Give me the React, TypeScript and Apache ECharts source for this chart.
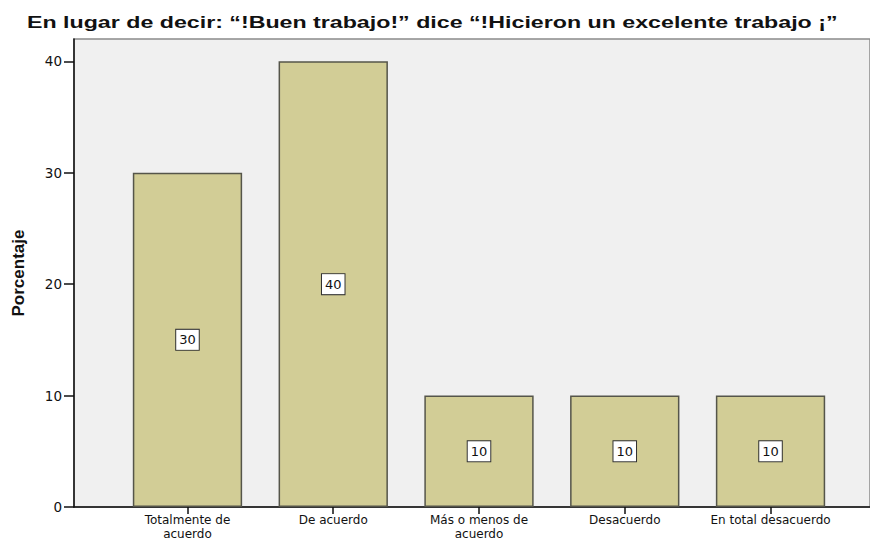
import React, { useEffect, useRef } from "react";
import * as echarts from "echarts";

const categories = [
  "Totalmente de\nacuerdo",
  "De acuerdo",
  "Más o menos de\nacuerdo",
  "Desacuerdo",
  "En total desacuerdo",
];
const percentages = [30, 40, 10, 10, 10];
const yTicks = [0, 10, 20, 30, 40];
const titleText = "En lugar de decir: “!Buen trabajo!” dice “!Hicieron un excelente trabajo ¡”";
const yAxisName = "Porcentaje";

const FONT = "'Liberation Sans', Arial, sans-serif";
const WIDE = "'DejaVu Sans', 'Liberation Sans', sans-serif";

export default function App() {
  const ref = useRef<HTMLDivElement>(null);
  useEffect(() => {
    if (!ref.current) return;
    const chart = echarts.init(ref.current, null, { renderer: "svg" });
    const top = 39;
    const bottom = 34;
    chart.setOption({
      animation: false,
      backgroundColor: "#ffffff",
      graphic: [
        {
          type: "text",
          x: 27,
          y: 22,
          scaleX: 1.365,
          style: {
            text: titleText,
            font: "bold 17px 'Liberation Sans', Arial, sans-serif",
            fill: "#111",
            verticalAlign: "middle",
          },
        },
      ],
      grid: [
        {
          left: 74,
          right: 0,
          top,
          bottom,
          show: true,
          backgroundColor: "#F0F0F0",
          borderColor: "#8a8a8a",
          borderWidth: 1.5,
        },
        { left: 114.6, right: 26.6, top, bottom },
      ],
      xAxis: [
        {
          gridIndex: 0,
          type: "value",
          min: 0,
          max: 1,
          axisLine: { show: true, lineStyle: { color: "#111", width: 1.5 } },
          axisTick: { show: false },
          axisLabel: { show: false },
          splitLine: { show: false },
        },
        {
          gridIndex: 1,
          type: "category",
          data: categories,
          axisLine: { show: false },
          axisTick: { show: true, alignWithLabel: true, length: 7, lineStyle: { color: "#111", width: 1.5 } },
          axisLabel: {
            fontFamily: WIDE,
            fontSize: 12,
            color: "#111",
            lineHeight: 14,
            margin: 6,
            interval: 0,
          },
        },
      ],
      yAxis: [
        {
          gridIndex: 0,
          type: "value",
          min: 0,
          max: 42,
          interval: 10,
          name: yAxisName,
          nameLocation: "middle",
          nameGap: 47,
          nameTextStyle: { fontFamily: FONT, fontSize: 17, fontWeight: "bold", color: "#111" },
          axisLine: { show: true, lineStyle: { color: "#111", width: 1.5 } },
          axisTick: { show: true, length: 10, lineStyle: { color: "#111", width: 1.5 }, customValues: yTicks },
          axisLabel: { fontFamily: WIDE, fontSize: 13.5, color: "#111", margin: 12, customValues: yTicks },
          splitLine: { show: false },
        },
        {
          gridIndex: 1,
          type: "value",
          min: 0,
          max: 42,
          show: false,
          splitLine: { show: false },
        },
      ],
      series: [
        {
          type: "bar",
          xAxisIndex: 1,
          yAxisIndex: 1,
          data: percentages,
          barCategoryGap: "25%",
          itemStyle: { color: "#D2CD96", borderColor: "#55554a", borderWidth: 1.5 },
          label: {
            show: true,
            position: "inside",
            fontFamily: WIDE,
            fontSize: 13,
            color: "#111",
            backgroundColor: "#ffffff",
            borderColor: "#333",
            borderWidth: 1,
            padding: [4, 3, 3, 3],
          },
        },
      ],
    });
    return () => chart.dispose();
  }, []);
  return <div ref={ref} style={{ width: 870, height: 541, position: "absolute", left: 0, top: 0 }} />;
}
